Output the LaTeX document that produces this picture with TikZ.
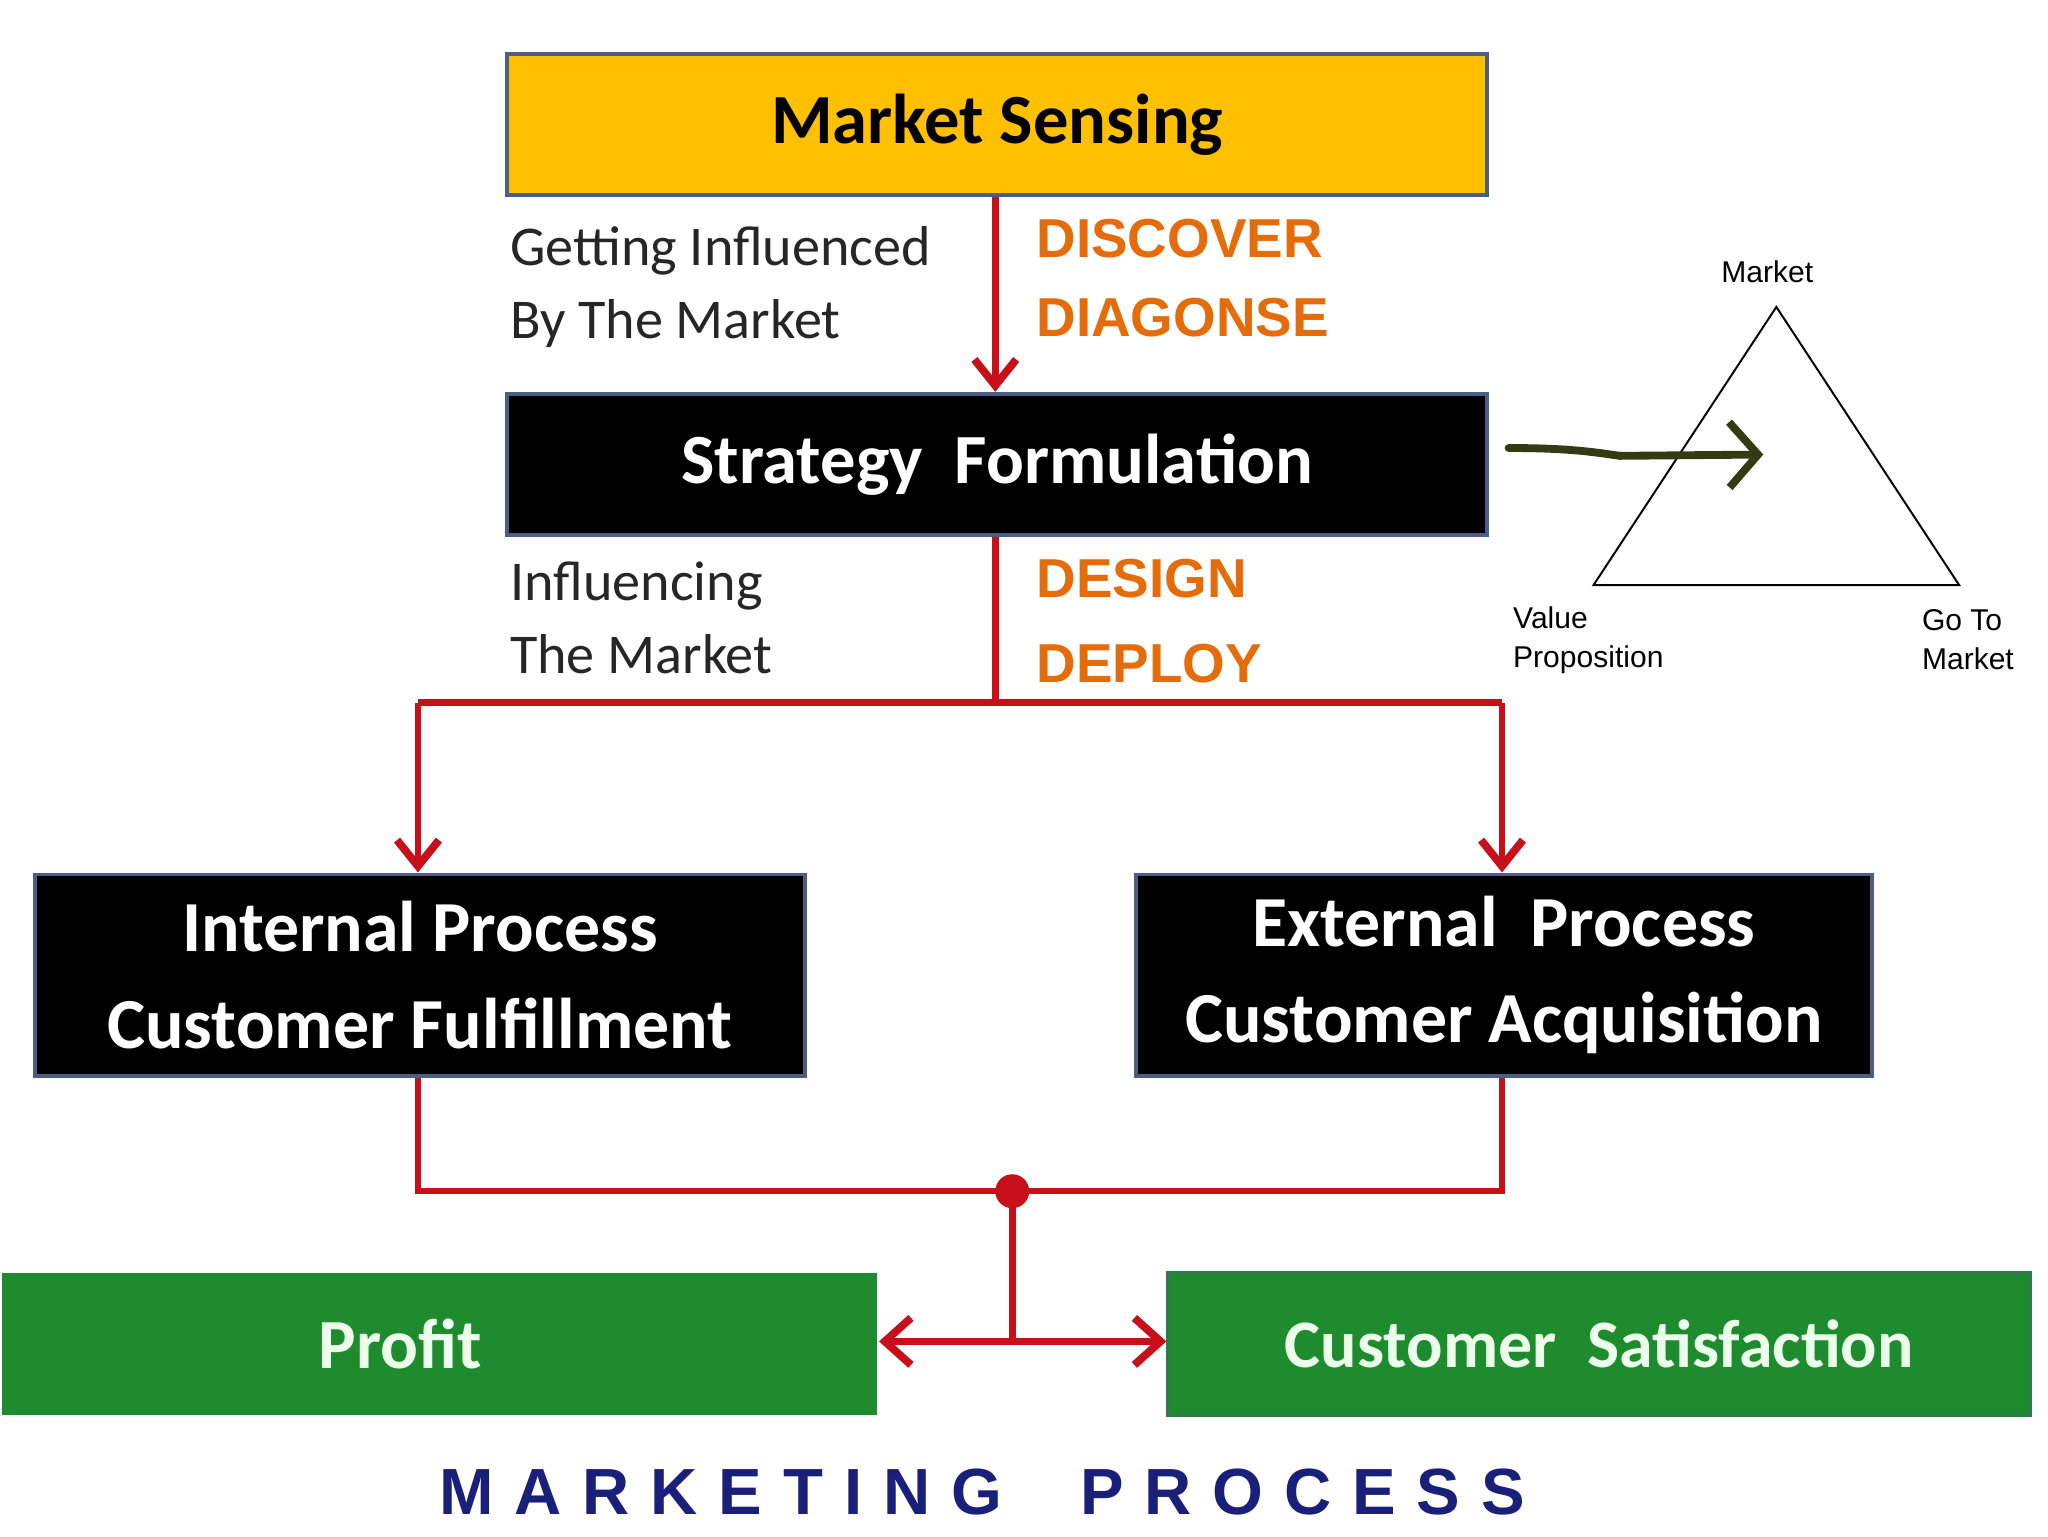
\documentclass[tikz,border=0pt]{standalone}
\usepackage{fontspec}
\setmainfont{Carlito}
\newfontfamily\arialf{Liberation Sans}
\usetikzlibrary{arrows.meta}
\definecolor{gold}{HTML}{FFC000}
\definecolor{bord}{HTML}{4A5E86}
\definecolor{redl}{HTML}{C8101A}
\definecolor{orng}{HTML}{E46C0A}
\definecolor{grn}{HTML}{1E8C2E}
\definecolor{navy}{HTML}{1A1F7A}
\definecolor{olive}{HTML}{343A12}
\begin{document}
\begin{tikzpicture}[x=1pt,y=-1pt,
 box/.style={draw=bord,line width=3pt,anchor=north west,inner sep=0pt,font=\bfseries\fontsize{54}{66}\selectfont,align=center},
 rl/.style={draw=redl,line width=5pt},
 ra/.style={rl,-{Straight Barb[length=20pt,width=32pt,line width=6pt]}},
 side/.style={font=\fontsize{43}{56}\selectfont,anchor=west,text=black!85,align=left},
 ors/.style={font=\arialf\bfseries\fontsize{42}{50}\selectfont,text=orng,anchor=west},
 tl/.style={font=\arialf\fontsize{23}{30}\selectfont,anchor=west,align=left}]
\useasboundingbox (0,0) rectangle (1568,1176);
\node[box,fill=gold,minimum width=750pt,minimum height=108pt] (ms) at (387,40) {Market Sensing};
\node[box,fill=black,text=white,minimum width=750pt,minimum height=108pt] (sf) at (387,300) {Strategy\ \ Formulation};
\node[box,fill=black,text=white,minimum width=590pt,minimum height=154pt,font=\bfseries\fontsize{55}{74}\selectfont] (ip) at (25,668) {Internal Process\\Customer Fulfillment};
\node[box,fill=black,text=white,minimum width=564pt,minimum height=154pt,font=\bfseries\fontsize{55}{74}\selectfont] (ep) at (868,668) {External\ \ Process\\Customer Acquisition};
\node[box,draw=none,fill=grn,text=white!92!green,minimum width=670pt,minimum height=109pt,font=\bfseries\fontsize{54}{60}\selectfont] (pr) at (0,973) {\hspace*{-60pt}Profit};
\node[box,fill=grn,draw=grn!70!bord,text=white!92!green,minimum width=660pt,minimum height=109pt,font=\bfseries\fontsize{52}{60}\selectfont] (cs) at (893,973) {Customer\ \ Satisfaction};
\node[side] (g1) at (387,220) {Getting Influenced\\By The Market};
\node[side] (g2) at (387,473) {Influencing\\The Market};
\node[ors] (d1) at (790,183) {DISCOVER};
\node[ors] (d2) at (790,243) {DIAGONSE};
\node[ors] (d3) at (790,443) {DESIGN};
\node[ors] (d4) at (790,508) {DEPLOY};
\coordinate (j1) at (762,538);
\coordinate (lt) at (320,538);
\coordinate (rt) at (1150,538);
\coordinate (lb) at (320,912);
\coordinate (rb) at (1150,912);
\coordinate (dot) at (775,912);
\coordinate (mid) at (775,1027);
\draw[ra] (ms.south -| 762,0) -- (sf.north -| 762,0);
\draw[rl] (sf.south -| 762,0) -- (j1);
\draw[rl] (lt) -- (rt);
\draw[ra] (lt) -- (ip.north -| lt);
\draw[ra] (rt) -- (ep.north -| rt);
\draw[rl] (ip.south -| lb) -- (lb) -- (rb) -- (ep.south -| rb);
\fill[redl] (dot) circle (13pt);
\draw[rl] (dot) -- (mid);
\draw[rl,{Straight Barb[length=20pt,width=36pt,line width=6pt]}-{Straight Barb[length=20pt,width=36pt,line width=6pt]}] (pr.east |- mid) -- (cs.west |- mid);
\node[font=\arialf\bfseries\fontsize{50}{56}\selectfont,text=navy] (tt) at (752,1142) {\addfontfeature{LetterSpace=32}MARKETING\ \ PROCESS};
\coordinate (ta) at (1360,235);
\coordinate (tb) at (1220,448);
\coordinate (tc) at (1500,448);
\draw[line width=1.5pt] (ta) -- (tb) -- (tc) -- cycle;
\node[font=\arialf\fontsize{23}{30}\selectfont] (tm) at (1353,208) {Market};
\node[tl] (tv) at (1155,490) {Value\\Proposition};
\node[tl] (tg) at (1468,490) {Go To\\Market};
\coordinate (as) at (1155,343);
\coordinate (ae) at (1350,348);
\draw[olive,line width=6pt,line cap=round,-{Straight Barb[length=22pt,width=50pt,line width=6pt]}] (as) .. controls (1200,343) and (1220,346) .. (1240,349) -- (ae);
\end{tikzpicture}
\end{document}
